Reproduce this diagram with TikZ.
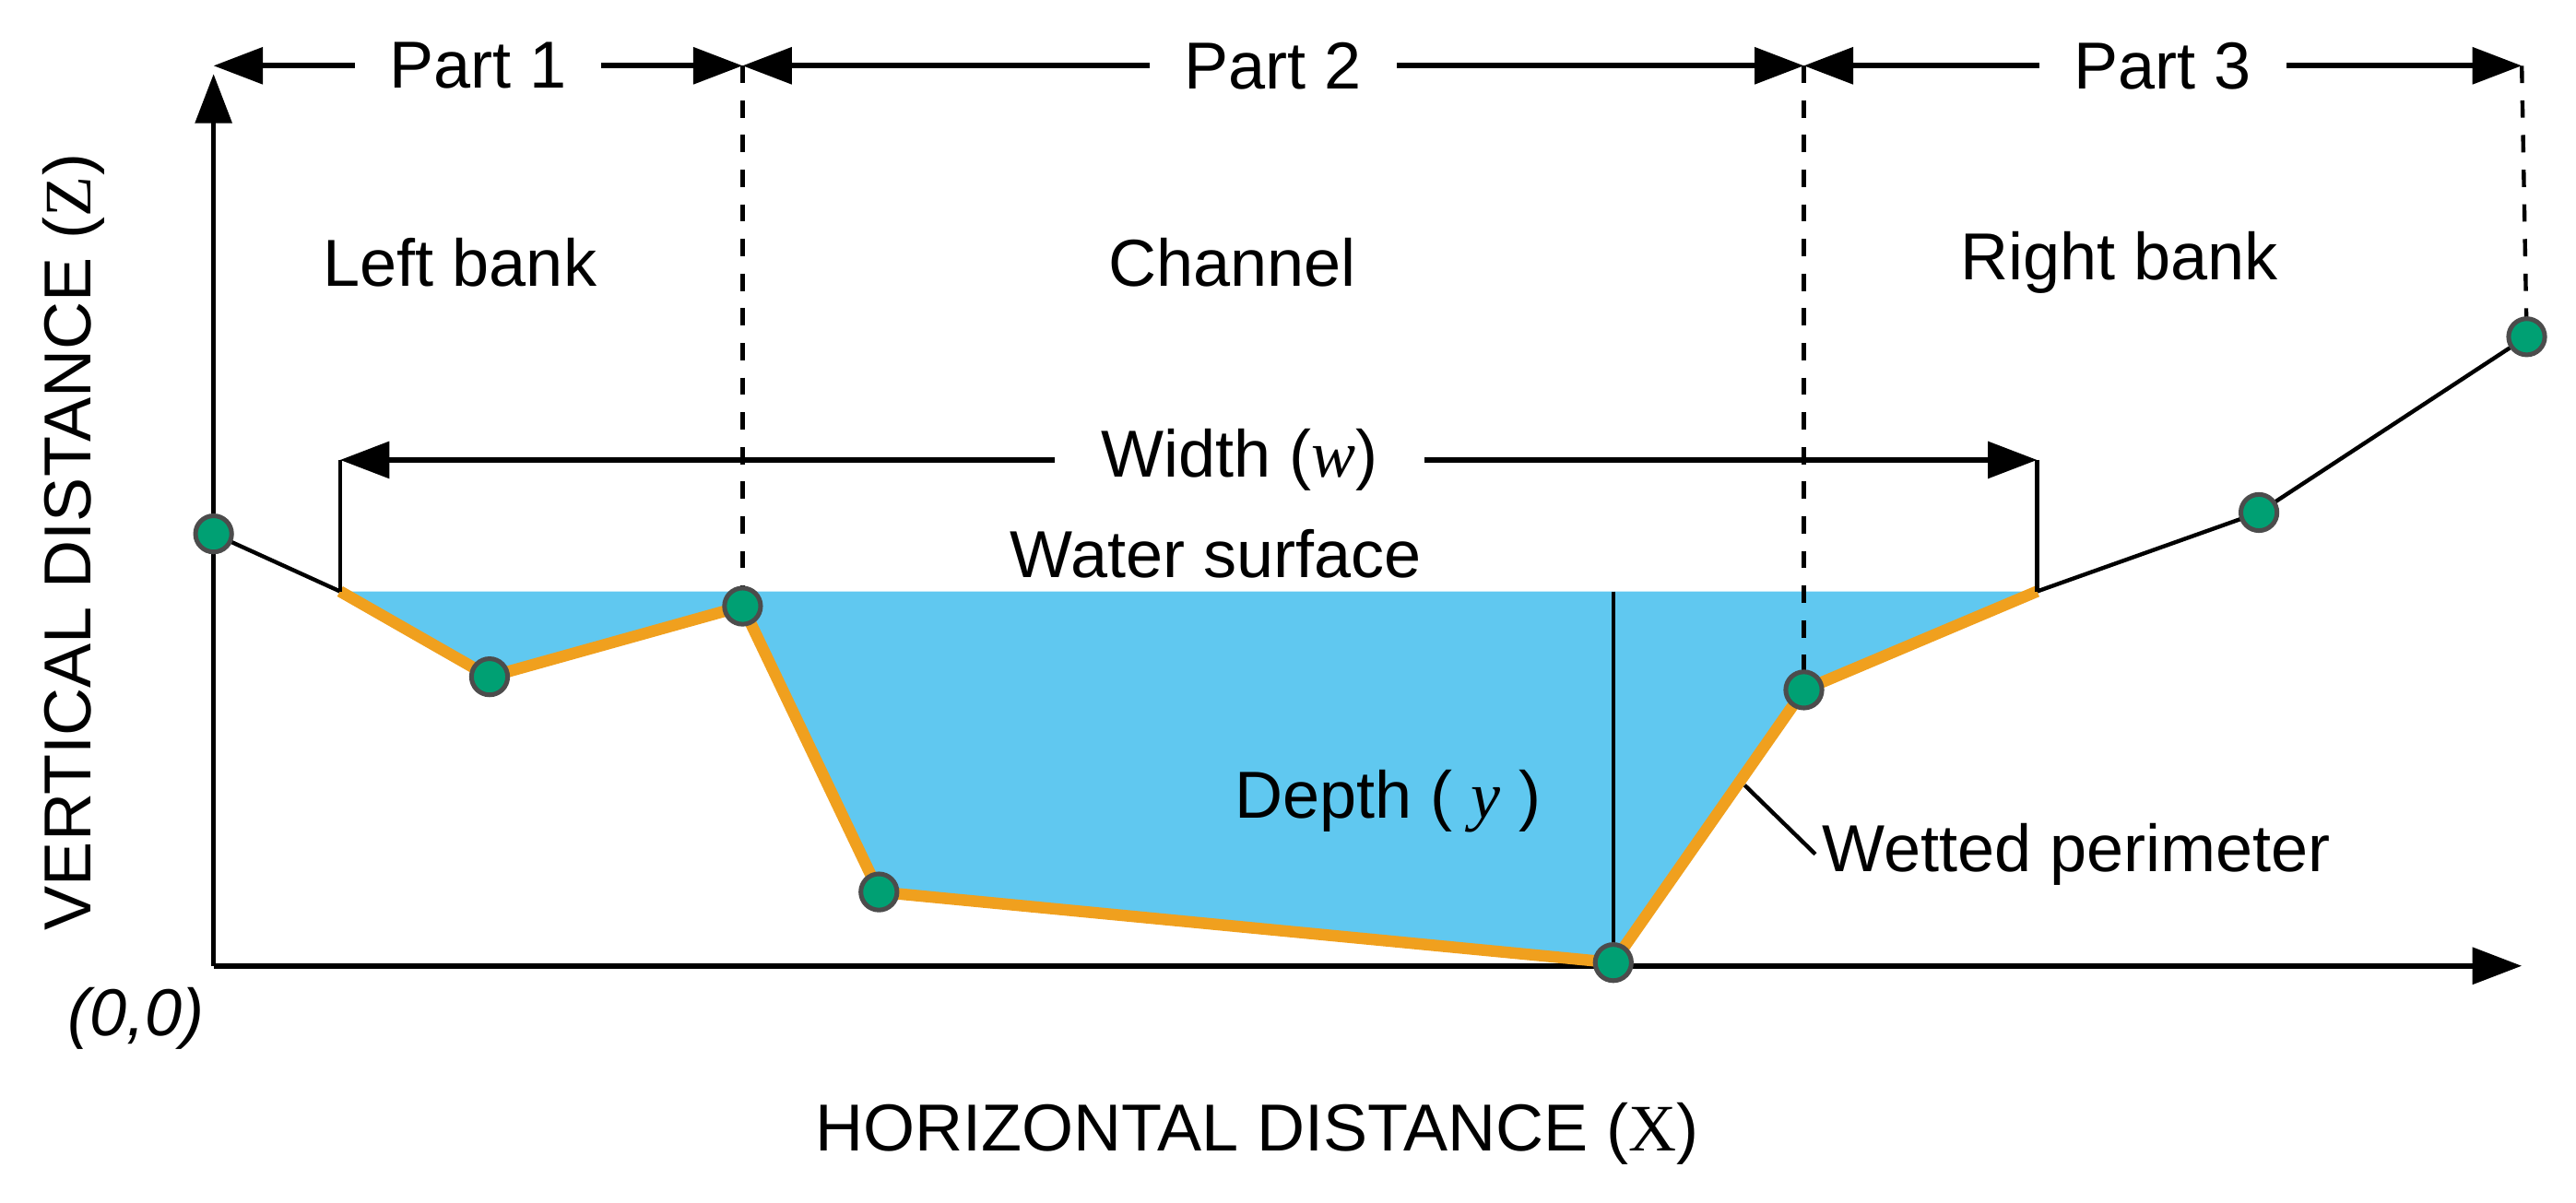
\documentclass[tikz,border=0pt]{standalone}
\usepackage{fontspec}
\setmainfont{Liberation Sans}
\usetikzlibrary{arrows.meta}
\definecolor{water}{RGB}{96,200,240}
\definecolor{peri}{RGB}{240,160,30}
\definecolor{dotg}{RGB}{0,160,115}
\begin{document}
\begin{tikzpicture}[x=0.01cm,y=-0.01cm,
  lbl/.style={font=\fontsize{11.5pt}{13pt}\selectfont,inner sep=1pt},
  pt/.style={circle,fill=dotg,draw=black!70,line width=0.8pt,minimum size=0.22cm,inner sep=0pt},
  dim/.style={line width=0.9pt,{Triangle[length=0.3cm,width=0.22cm]}-{Triangle[length=0.3cm,width=0.22cm]}},
  ax/.style={line width=0.9pt,-{Triangle[length=0.3cm,width=0.22cm]}}]
\useasboundingbox (0,0) rectangle (1568,732);
% coordinates
\coordinate (O) at (130,588);
\coordinate (wl) at (207,360);
\coordinate (wr) at (1240,360);
\coordinate (c1) at (130,325);
\coordinate (c2) at (298,412);
\coordinate (c3) at (452,369);
\coordinate (c4) at (535,543);
\coordinate (c5) at (982,586);
\coordinate (c6) at (1098,420);
\coordinate (c7) at (1375,312);
\coordinate (c8) at (1538,205);
\coordinate (dtop) at (982,360);
% water
\fill[water] (wl) -- (c2) -- (c3) -- (c4) -- (c5) -- (c6) -- (wr) -- cycle;
\draw[line width=0.7pt] (c1) -- (wl);
\draw[line width=0.7pt] (wr) -- (c7) -- (c8);
\draw[line width=0.7pt] (dtop) -- (c5);
% axes
\draw[ax] (O) -- (130,45);
\draw[ax] (O) -- (1535,588);
% dashed
\coordinate (t1) at (452,40);
\coordinate (t2) at (1098,40);
\coordinate (t3) at (1535,40);
\coordinate (t0) at (130,40);
\draw[dashed,line width=0.7pt] (t1) -- (c3);
\draw[dashed,line width=0.7pt] (t2) -- (c6);
\draw[dashed,line width=0.7pt] (t3) -- (c8);
% perimeter
\draw[peri,line width=2pt,line join=round] (wl) -- (c2) -- (c3) -- (c4) -- (c5) -- (c6) -- (wr);
% part dims
\draw[dim] (t0) -- node[lbl,fill=white,inner xsep=6pt]{Part 1} (t1);
\draw[dim] (t1) -- node[lbl,fill=white,inner xsep=6pt]{Part 2} (t2);
\draw[dim] (t2) -- node[lbl,fill=white,inner xsep=6pt]{Part 3} (t3);
% width
\coordinate (w1) at (207,280);
\coordinate (w2) at (1240,280);
\draw[line width=0.7pt] (w1) -- (wl);
\draw[line width=0.7pt] (w2) -- (wr);
\draw[dim] (w1) -- node[lbl,fill=white,inner xsep=8pt,pos=0.53]{Width (\textit{\fontspec{Liberation Serif}w})} (w2);
% dots
\foreach \c in {c1,c2,c3,c4,c5,c6,c7,c8} \node[pt] at (\c) {};
% labels
\node[lbl] (lb) at (280,160) {Left bank};
\node[lbl] (ch) at (750,160) {Channel};
\node[lbl] (rb) at (1290,160) {Right bank};
\node[lbl] (ws) at (740,337) {Water surface};
\node[lbl] (dp) at (845,488) {Depth ( \textit{\fontspec{Liberation Serif}y} )};
\node[lbl,anchor=west] (wp) at (1105,520) {Wetted perimeter};
\coordinate (wpa) at (1062,478);
\draw[line width=0.7pt] (wpa) -- (wp.west);
\node[lbl] (oo) at (83,620) {\textit{(0,0)}};
\node[lbl] (hx) at (765,690) {HORIZONTAL DISTANCE ({\fontspec{Liberation Serif}X})};
\node[lbl,rotate=90] (vz) at (45,330) {VERTICAL DISTANCE ({\fontspec{Liberation Serif}Z})};
\end{tikzpicture}
\end{document}
